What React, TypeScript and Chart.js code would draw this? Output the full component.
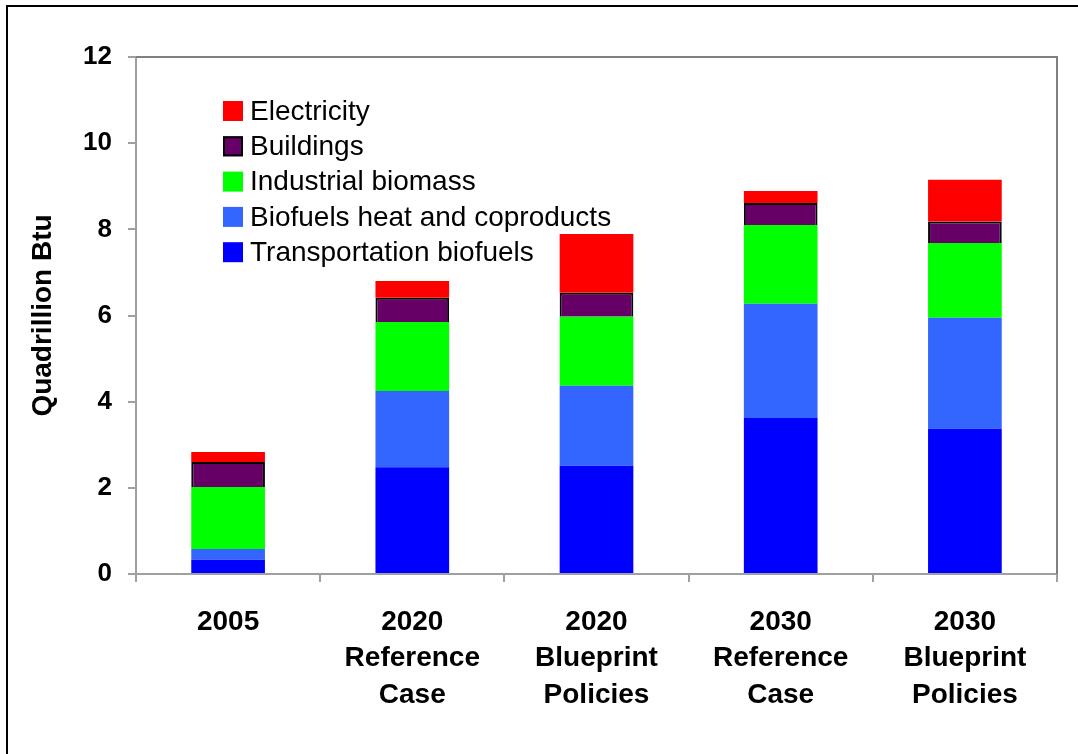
import React, { useEffect, useRef } from "react";
import { Chart, registerables } from "chart.js";

Chart.register(...registerables);

const categories: string[][] = [
  ["2005"],
  ["2020", "Reference", "Case"],
  ["2020", "Blueprint", "Policies"],
  ["2030", "Reference", "Case"],
  ["2030", "Blueprint", "Policies"],
];

const transportationBiofuels = [0.33, 2.48, 2.51, 3.62, 3.37];
const biofuelsHeatCoproducts = [0.25, 1.77, 1.86, 2.65, 2.58];
const industrialBiomass = [1.44, 1.6, 1.6, 1.83, 1.73];
const buildings = [0.58, 0.56, 0.56, 0.51, 0.5];
const electricity = [0.23, 0.39, 1.36, 0.28, 0.97];

const yTicks = [0, 2, 4, 6, 8, 10, 12];

const FONT = "'Liberation Sans', Arial, Helvetica, sans-serif";

const plotFrame = {
  id: "plotFrame",
  afterDraw(chart: any) {
    const { ctx, chartArea } = chart;
    ctx.save();
    ctx.strokeStyle = "#808080";
    ctx.lineWidth = 2;
    ctx.beginPath();
    ctx.moveTo(chartArea.left, chartArea.top);
    ctx.lineTo(chartArea.right, chartArea.top);
    ctx.lineTo(chartArea.right, chartArea.bottom);
    ctx.stroke();
    ctx.restore();
  },
};

const innerLegend = {
  id: "innerLegend",
  afterDraw(chart: any) {
    const { ctx } = chart;
    const ds = [...chart.data.datasets].reverse();
    const x0 = 223;
    const y0 = 111;
    const step = 35.3;
    ctx.save();
    ctx.font = `28px ${FONT}`;
    ctx.textBaseline = "middle";
    ctx.textAlign = "left";
    ds.forEach((d: any, i: number) => {
      const cy = y0 + i * step;
      ctx.fillStyle = d.backgroundColor;
      ctx.fillRect(x0, cy - 10, 20, 20);
      if (d.borderWidth) {
        ctx.strokeStyle = d.borderColor;
        ctx.lineWidth = 2;
        ctx.strokeRect(x0 + 1, cy - 9, 18, 18);
      }
      ctx.fillStyle = "#000";
      ctx.fillText(d.label, x0 + 27, cy + 1);
    });
    ctx.restore();
  },
};

export default function App() {
  const ref = useRef<HTMLCanvasElement>(null);

  useEffect(() => {
    if (!ref.current) return;
    const chart = new Chart(ref.current, {
      type: "bar",
      data: {
        labels: categories,
        datasets: [
          { label: "Transportation biofuels", data: transportationBiofuels, backgroundColor: "#0000FF", borderWidth: 0 },
          { label: "Biofuels heat and coproducts", data: biofuelsHeatCoproducts, backgroundColor: "#3366FF", borderWidth: 0 },
          { label: "Industrial biomass", data: industrialBiomass, backgroundColor: "#00FF00", borderWidth: 0 },
          { label: "Buildings", data: buildings, backgroundColor: "#660066", borderColor: "#000000", borderWidth: 2 },
          { label: "Electricity", data: electricity, backgroundColor: "#FF0000", borderWidth: 0 },
        ],
      },
      options: {
        animation: false,
        responsive: false,
        maintainAspectRatio: false,
        layout: { padding: { left: 0, top: 57, right: 21, bottom: 0 } },
        datasets: { bar: { barPercentage: 0.4, categoryPercentage: 1 } },
        plugins: {
          legend: { display: false },
          tooltip: { enabled: false },
          title: { display: false },
        },
        scales: {
          x: {
            stacked: true,
            afterFit: (s: any) => { s.height = 180; },
            grid: { drawOnChartArea: false, drawTicks: true, tickLength: 8, color: "#a0a0a0", lineWidth: 2 },
            border: { display: true, color: "#a0a0a0", width: 2 },
            ticks: {
              color: "#000",
              font: { family: FONT, size: 28, weight: "bold", lineHeight: 1.3 },
              padding: 22,
              maxRotation: 0,
              autoSkip: false,
            },
          },
          y: {
            stacked: true,
            min: 0,
            max: 12,
            afterFit: (s: any) => { s.width = 136; },
            afterBuildTicks: (s: any) => { s.ticks = yTicks.map((v) => ({ value: v })); },
            grid: { drawOnChartArea: false, drawTicks: true, tickLength: 8, color: "#a0a0a0", lineWidth: 2 },
            border: { display: true, color: "#a0a0a0", width: 2 },
            ticks: {
              color: "#000",
              font: { family: FONT, size: 26, weight: "bold" },
              padding: 16,
            },
            title: {
              display: true,
              text: "Quadrillion Btu",
              color: "#000",
              font: { family: FONT, size: 28, weight: "bold" },
              padding: { top: 26, bottom: 0 },
            },
          },
        },
      },
      plugins: [plotFrame, innerLegend],
    });
    return () => chart.destroy();
  }, []);

  return (
    <div style={{ position: "fixed", left: 0, top: 0, width: 1078, height: 754, overflow: "hidden", background: "#fff" }}>
      <div
        style={{
          position: "absolute",
          left: 6,
          top: 5,
          width: 1100,
          height: 800,
          border: "2.5px solid #000",
          boxSizing: "border-box",
        }}
      />
      <canvas ref={ref} width={1078} height={754} style={{ position: "absolute", left: 0, top: 0 }} />
    </div>
  );
}
